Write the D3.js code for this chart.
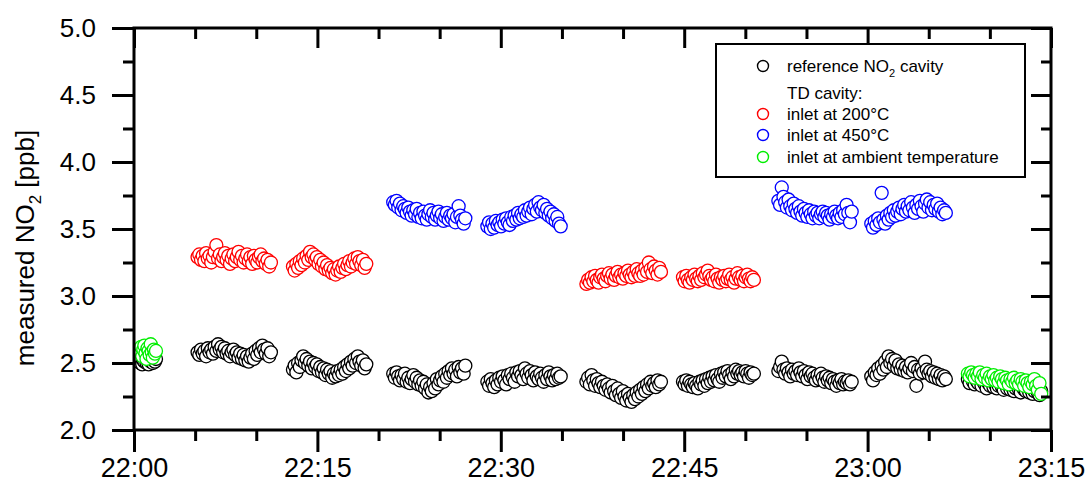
<!DOCTYPE html>
<html>
<head>
<meta charset="utf-8">
<script src="https://cdn.jsdelivr.net/npm/d3@7"></script>
<style>
  body { margin: 0; background: #fff; }
  svg { display: block; font-family: "Liberation Sans", Arial, sans-serif; }
</style>
</head>
<body>
<div id="chart"></div>
<script>
// measurement blocks: start / end (minutes after 22:00)
const segStart = [0.5, 5.2, 13.0, 21.2, 28.9, 37.0, 44.9, 52.7, 60.3, 68.2]
const segEnd = [1.8, 11.2, 19.0, 27.1, 34.9, 43.1, 50.7, 58.7, 66.4, 74.2]

// which inlet the TD cavity was on in each block
const tdMode = ['ambient', '200', '200', '450', '450', '200', '200', '450', '450', 'ambient']

// reference NO2 cavity [ppb]
const ref0 = [2.50, 2.53, 2.49, 2.52, 2.51, 2.54, 2.50, 2.52, 2.49, 2.53, 2.51, 2.55, 2.50, 2.52, 2.51, 2.53]
const ref1 = [2.58, 2.56, 2.60, 2.57, 2.59, 2.55, 2.61, 2.58, 2.60, 2.57, 2.62, 2.59, 2.64, 2.60, 2.62, 2.58, 2.61, 2.57, 2.59, 2.55, 2.58, 2.60, 2.56, 2.58, 2.54, 2.57, 2.53, 2.56, 2.52, 2.55, 2.51, 2.54, 2.57, 2.53, 2.59, 2.56, 2.61, 2.58, 2.63, 2.60, 2.57, 2.61, 2.55, 2.58]
const ref2 = [2.45, 2.48, 2.43, 2.50, 2.47, 2.52, 2.55, 2.50, 2.53, 2.48, 2.51, 2.46, 2.50, 2.47, 2.49, 2.44, 2.47, 2.43, 2.46, 2.41, 2.45, 2.42, 2.44, 2.39, 2.42, 2.40, 2.44, 2.41, 2.45, 2.42, 2.47, 2.44, 2.49, 2.46, 2.51, 2.48, 2.53, 2.50, 2.55, 2.51, 2.48, 2.52, 2.46, 2.49]
const ref3 = [2.42, 2.39, 2.43, 2.40, 2.37, 2.41, 2.38, 2.42, 2.36, 2.39, 2.35, 2.38, 2.41, 2.36, 2.39, 2.34, 2.37, 2.33, 2.36, 2.31, 2.34, 2.28, 2.32, 2.29, 2.35, 2.31, 2.38, 2.34, 2.37, 2.40, 2.36, 2.42, 2.39, 2.44, 2.41, 2.46, 2.42, 2.45, 2.40, 2.47, 2.43, 2.46, 2.42, 2.48]
const ref4 = [2.36, 2.33, 2.38, 2.35, 2.32, 2.37, 2.34, 2.39, 2.36, 2.40, 2.37, 2.34, 2.41, 2.38, 2.42, 2.39, 2.36, 2.43, 2.40, 2.44, 2.41, 2.38, 2.46, 2.42, 2.39, 2.44, 2.41, 2.37, 2.43, 2.40, 2.38, 2.42, 2.39, 2.36, 2.41, 2.38, 2.43, 2.40, 2.37, 2.41, 2.38, 2.42, 2.39, 2.40]
const ref5 = [2.36, 2.39, 2.34, 2.41, 2.37, 2.33, 2.38, 2.35, 2.32, 2.36, 2.33, 2.30, 2.34, 2.31, 2.28, 2.33, 2.29, 2.26, 2.31, 2.27, 2.24, 2.29, 2.25, 2.22, 2.27, 2.24, 2.21, 2.26, 2.23, 2.28, 2.25, 2.30, 2.27, 2.32, 2.29, 2.34, 2.31, 2.36, 2.33, 2.35, 2.32, 2.37, 2.34, 2.36]
const ref6 = [2.36, 2.34, 2.37, 2.33, 2.36, 2.34, 2.32, 2.35, 2.33, 2.31, 2.36, 2.34, 2.37, 2.33, 2.38, 2.35, 2.39, 2.36, 2.40, 2.37, 2.41, 2.38, 2.36, 2.42, 2.39, 2.43, 2.40, 2.44, 2.41, 2.38, 2.43, 2.40, 2.45, 2.42, 2.44, 2.41, 2.43, 2.40, 2.44, 2.42, 2.39, 2.43, 2.41, 2.42]
const ref7 = [2.44, 2.47, 2.51, 2.45, 2.42, 2.46, 2.43, 2.40, 2.45, 2.42, 2.44, 2.41, 2.46, 2.43, 2.40, 2.44, 2.41, 2.38, 2.43, 2.40, 2.42, 2.39, 2.37, 2.41, 2.38, 2.42, 2.39, 2.36, 2.40, 2.37, 2.39, 2.35, 2.38, 2.36, 2.33, 2.37, 2.35, 2.38, 2.34, 2.36, 2.35, 2.37, 2.34, 2.36]
const ref8 = [2.40, 2.37, 2.43, 2.41, 2.46, 2.42, 2.48, 2.45, 2.51, 2.47, 2.55, 2.50, 2.53, 2.48, 2.52, 2.46, 2.49, 2.45, 2.48, 2.44, 2.47, 2.43, 2.46, 2.50, 2.44, 2.47, 2.33, 2.45, 2.42, 2.46, 2.43, 2.51, 2.45, 2.42, 2.44, 2.40, 2.43, 2.39, 2.42, 2.38, 2.41, 2.37, 2.40, 2.38]
const ref9 = [2.38, 2.35, 2.39, 2.36, 2.34, 2.37, 2.35, 2.38, 2.33, 2.36, 2.34, 2.31, 2.35, 2.33, 2.36, 2.32, 2.34, 2.31, 2.33, 2.35, 2.32, 2.30, 2.34, 2.31, 2.33, 2.30, 2.32, 2.29, 2.31, 2.33, 2.30, 2.28, 2.32, 2.30, 2.29, 2.31, 2.28, 2.30, 2.27, 2.29, 2.31, 2.28, 2.26, 2.29]

// TD cavity [ppb]
const td0 = [2.58, 2.62, 2.55, 2.60, 2.63, 2.57, 2.53, 2.61, 2.59, 2.56, 2.64, 2.58, 2.54, 2.60, 2.57, 2.59]
const td1 = [3.29, 3.31, 3.27, 3.30, 3.26, 3.32, 3.28, 3.30, 3.25, 3.29, 3.33, 3.38, 3.28, 3.31, 3.26, 3.29, 3.32, 3.27, 3.30, 3.24, 3.28, 3.31, 3.26, 3.29, 3.33, 3.27, 3.30, 3.25, 3.28, 3.31, 3.26, 3.29, 3.24, 3.30, 3.27, 3.25, 3.29, 3.31, 3.26, 3.28, 3.24, 3.27, 3.22, 3.25]
const td2 = [3.22, 3.19, 3.24, 3.21, 3.26, 3.23, 3.28, 3.25, 3.30, 3.27, 3.33, 3.29, 3.31, 3.27, 3.29, 3.24, 3.27, 3.22, 3.25, 3.20, 3.23, 3.19, 3.21, 3.17, 3.20, 3.16, 3.19, 3.22, 3.18, 3.21, 3.24, 3.20, 3.23, 3.26, 3.22, 3.25, 3.28, 3.24, 3.29, 3.26, 3.23, 3.27, 3.21, 3.24]
const td3 = [3.70, 3.68, 3.71, 3.66, 3.69, 3.64, 3.67, 3.65, 3.62, 3.66, 3.63, 3.60, 3.64, 3.61, 3.65, 3.59, 3.62, 3.58, 3.63, 3.60, 3.57, 3.61, 3.64, 3.59, 3.62, 3.57, 3.60, 3.63, 3.58, 3.61, 3.56, 3.59, 3.62, 3.57, 3.60, 3.58, 3.61, 3.55, 3.59, 3.67, 3.60, 3.57, 3.54, 3.58]
const td4 = [3.52, 3.55, 3.50, 3.54, 3.51, 3.56, 3.53, 3.55, 3.52, 3.57, 3.54, 3.58, 3.55, 3.53, 3.59, 3.56, 3.60, 3.57, 3.62, 3.58, 3.61, 3.59, 3.64, 3.60, 3.63, 3.66, 3.61, 3.65, 3.68, 3.63, 3.70, 3.66, 3.64, 3.68, 3.62, 3.65, 3.60, 3.63, 3.58, 3.61, 3.56, 3.59, 3.54, 3.52]
const td5 = [3.09, 3.12, 3.10, 3.14, 3.11, 3.15, 3.12, 3.10, 3.14, 3.16, 3.13, 3.11, 3.15, 3.17, 3.13, 3.16, 3.12, 3.15, 3.18, 3.14, 3.16, 3.13, 3.17, 3.15, 3.19, 3.16, 3.14, 3.18, 3.15, 3.20, 3.17, 3.15, 3.19, 3.16, 3.21, 3.18, 3.25, 3.20, 3.17, 3.22, 3.19, 3.16, 3.21, 3.18]
const td6 = [3.14, 3.11, 3.15, 3.12, 3.10, 3.14, 3.12, 3.16, 3.13, 3.11, 3.15, 3.12, 3.17, 3.14, 3.16, 3.19, 3.15, 3.12, 3.14, 3.11, 3.16, 3.13, 3.10, 3.14, 3.12, 3.15, 3.11, 3.13, 3.16, 3.12, 3.14, 3.10, 3.13, 3.17, 3.14, 3.12, 3.15, 3.11, 3.14, 3.16, 3.13, 3.11, 3.14, 3.12]
const td7 = [3.71, 3.68, 3.81, 3.74, 3.70, 3.66, 3.72, 3.67, 3.64, 3.69, 3.65, 3.62, 3.67, 3.63, 3.60, 3.65, 3.62, 3.59, 3.64, 3.61, 3.58, 3.63, 3.60, 3.62, 3.58, 3.61, 3.63, 3.59, 3.62, 3.60, 3.57, 3.61, 3.59, 3.63, 3.60, 3.58, 3.62, 3.59, 3.64, 3.61, 3.68, 3.62, 3.55, 3.63]
const td8 = [3.54, 3.51, 3.56, 3.53, 3.58, 3.55, 3.77, 3.57, 3.54, 3.60, 3.57, 3.62, 3.59, 3.64, 3.60, 3.63, 3.66, 3.61, 3.65, 3.68, 3.63, 3.67, 3.64, 3.70, 3.66, 3.62, 3.68, 3.65, 3.71, 3.67, 3.63, 3.69, 3.72, 3.66, 3.70, 3.64, 3.68, 3.65, 3.69, 3.63, 3.66, 3.61, 3.64, 3.62]
const td9 = [2.42, 2.40, 2.43, 2.41, 2.39, 2.42, 2.40, 2.43, 2.38, 2.41, 2.39, 2.42, 2.37, 2.40, 2.38, 2.41, 2.37, 2.39, 2.36, 2.40, 2.38, 2.35, 2.39, 2.37, 2.34, 2.38, 2.36, 2.39, 2.35, 2.37, 2.34, 2.38, 2.36, 2.33, 2.37, 2.35, 2.32, 2.36, 2.34, 2.38, 2.33, 2.30, 2.35, 2.27]

const refSegs = [ref0, ref1, ref2, ref3, ref4, ref5, ref6, ref7, ref8, ref9]
const tdSegs = [td0, td1, td2, td3, td4, td5, td6, td7, td8, td9]

const modeColor = { ref: '#000000', '200': '#ff0000', '450': '#0000ff', ambient: '#00ee00' }

const legendRows = [
  { key: 'ref', label: 'reference NO', sub: '2', after: ' cavity' },
  { key: null, label: 'TD cavity:' },
  { key: '200', label: 'inlet at 200°C' },
  { key: '450', label: 'inlet at 450°C' },
  { key: 'ambient', label: 'inlet at ambient temperature' }
]

const W = 1087
const H = 494
const margin = { top: 28, right: 36, bottom: 64, left: 134 }
const w = W - margin.left - margin.right
const h = H - margin.top - margin.bottom

const t0 = new Date(2000, 0, 1, 22, 0)
const atMin = (m) => new Date(t0.getTime() + m * 60000)

// spread each block's samples evenly over its time span
function toPoints(segs, modeOf) {
  const pts = []
  segs.forEach((vals, i) => {
    const step = (segEnd[i] - segStart[i]) / (vals.length - 1)
    vals.forEach((v, j) => {
      pts.push({ t: atMin(segStart[i] + j * step), v: v, mode: modeOf(i) })
    })
  })
  return pts
}
const refPts = toPoints(refSegs, () => 'ref')
const tdPts = toPoints(tdSegs, (i) => tdMode[i])

const x = d3.scaleTime([atMin(0), atMin(75)], [0, w])
const y = d3.scaleLinear([2, 5], [h, 0])

const svg = d3.select('#chart').append('svg').attr('width', W).attr('height', H)
const g = svg.append('g').attr('transform', `translate(${margin.left},${margin.top})`)

const majorX = d3.range(0, 76, 15).map(atMin)
const minorX = d3.range(0, 76, 5).filter((m) => m % 15 !== 0).map(atMin)
const majorY = d3.range(2, 5.01, 0.5)
const minorY = d3.range(2.25, 5, 0.5)

function styleAxis(sel) {
  sel.selectAll('.domain').remove()
  sel.selectAll('.tick line').attr('stroke', '#000').attr('stroke-width', 3)
  sel.selectAll('text').attr('fill', '#000')
}

// points
g.append('g')
  .selectAll('circle')
  .data(refPts.concat(tdPts))
  .join('circle')
  .attr('cx', (d) => x(d.t))
  .attr('cy', (d) => y(d.v))
  .attr('r', 6.5)
  .attr('fill', '#fff')
  .attr('stroke', (d) => modeColor[d.mode])
  .attr('stroke-width', 1.3)

// bottom axis
g.append('g').attr('transform', `translate(0,${h})`)
  .call(d3.axisBottom(x).tickValues(majorX).tickSize(22).tickPadding(6).tickFormat(d3.timeFormat('%H:%M')))
  .call(styleAxis)
  .selectAll('text').attr('font-size', 27).attr('font-family', 'Liberation Sans, Arial, sans-serif')
g.append('g').attr('transform', `translate(0,${h})`)
  .call(d3.axisBottom(x).tickValues(minorX).tickSize(11).tickFormat(''))
  .call(styleAxis)

// top axis, ticks inward
g.append('g')
  .call(d3.axisBottom(x).tickValues(majorX).tickSize(20).tickFormat(''))
  .call(styleAxis)
g.append('g')
  .call(d3.axisBottom(x).tickValues(minorX).tickSize(11).tickFormat(''))
  .call(styleAxis)

// left axis
g.append('g')
  .call(d3.axisLeft(y).tickValues(majorY).tickSize(22).tickPadding(16).tickFormat(d3.format('.1f')))
  .call(styleAxis)
  .selectAll('text').attr('font-size', 26).attr('font-family', 'Liberation Sans, Arial, sans-serif')
g.append('g')
  .call(d3.axisLeft(y).tickValues(minorY).tickSize(11).tickFormat(''))
  .call(styleAxis)

// right axis, ticks inward
g.append('g').attr('transform', `translate(${w},0)`)
  .call(d3.axisLeft(y).tickValues(majorY).tickSize(20).tickFormat(''))
  .call(styleAxis)
g.append('g').attr('transform', `translate(${w},0)`)
  .call(d3.axisLeft(y).tickValues(minorY).tickSize(10).tickFormat(''))
  .call(styleAxis)

// frame
g.append('rect')
  .attr('width', w).attr('height', h)
  .attr('fill', 'none').attr('stroke', '#000').attr('stroke-width', 3)

// y title
const yt = svg.append('text')
  .attr('transform', 'translate(34,248) rotate(-90)')
  .attr('text-anchor', 'middle')
  .attr('font-size', 26)
  .attr('fill', '#000')
yt.append('tspan').text('measured NO')
yt.append('tspan').attr('font-size', 17).attr('dy', 7).text('2')
yt.append('tspan').attr('dy', -7).text(' [ppb]')

// legend
const lg = svg.append('g').attr('transform', 'translate(716,44)')
lg.append('rect')
  .attr('width', 309).attr('height', 133)
  .attr('fill', '#fff').attr('stroke', '#000').attr('stroke-width', 2)
const rowY = [22, 49, 70, 91, 113]
legendRows.forEach((r, i) => {
  if (r.key) {
    lg.append('circle')
      .attr('cx', 47).attr('cy', rowY[i])
      .attr('r', 5.5)
      .attr('fill', '#fff')
      .attr('stroke', modeColor[r.key])
      .attr('stroke-width', 1.4)
  }
  const t = lg.append('text')
    .attr('x', 71).attr('y', rowY[i] + 6)
    .attr('font-size', 17)
    .attr('fill', '#000')
  t.append('tspan').text(r.label)
  if (r.sub) {
    t.append('tspan').attr('font-size', 11).attr('dy', 5).text(r.sub)
    t.append('tspan').attr('dy', -5).text(r.after)
  }
})
</script>
</body>
</html>
